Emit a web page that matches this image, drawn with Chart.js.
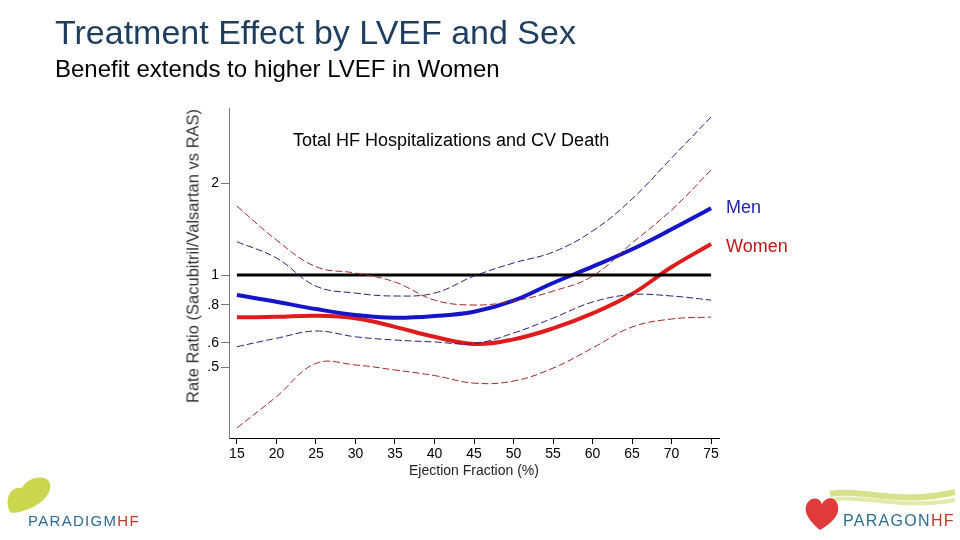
<!DOCTYPE html>
<html>
<head>
<meta charset="utf-8">
<script src="https://cdn.jsdelivr.net/npm/chart.js@4.4.1/dist/chart.umd.min.js"></script>
<style>
  html, body { margin: 0; padding: 0; background: #fff; }
  #page { position: relative; width: 960px; height: 540px; overflow: hidden; font-family: "Liberation Sans", Arial, sans-serif; }
  #chart { position: absolute; left: 0; top: 0; }
  .title { position: absolute; left: 55px; top: 13px; font-size: 34px; color: #1f3d5e; white-space: nowrap; }
  .subtitle { position: absolute; left: 55px; top: 55px; font-size: 24px; color: #000; white-space: nowrap; }
  .inner { position: absolute; left: 293px; top: 130px; font-size: 18px; color: #000; white-space: nowrap; }
  .ytitle { position: absolute; left: 193px; top: 256px; font-size: 16.5px; color: #333; white-space: nowrap;
            transform: translate(-50%, -50%) rotate(-90deg); }
  .logo-text { position: absolute; font-size: 15px; letter-spacing: 1.3px; white-space: nowrap; }
</style>
</head>
<body>
<div id="page">
  <canvas id="chart" width="960" height="540"></canvas>
  <div class="title">Treatment Effect by LVEF and Sex</div>
  <div class="subtitle">Benefit extends to higher LVEF in Women</div>
  <div class="inner">Total HF Hospitalizations and CV Death</div>
  <div class="ytitle">Rate Ratio (Sacubitril/Valsartan vs RAS)</div>

  <svg style="position:absolute;left:0;top:470px" width="60" height="50">
    <path d="M10 42 C 4 30, 10 16, 22 18 C 28 6, 48 4, 50 14 C 52 26, 38 36, 26 40 C 20 42, 14 44, 10 42 Z" fill="#c9d64e"/>
  </svg>
  <div class="logo-text" style="left:28px;top:512px;color:#2c6a96">PARADIGM<span style="color:#c0392b">HF</span></div>

  <svg style="position:absolute;left:800px;top:486px" width="160" height="50">
    <path d="M30 8 C 60 2, 100 20, 155 6" stroke="#d7e08a" stroke-width="6" fill="none"/>
    <path d="M32 14 C 62 8, 100 24, 155 14" stroke="#e3e9a8" stroke-width="4" fill="none"/>
    <path d="M20 44 C 8 34, 2 24, 8 16 C 13 10, 20 12, 22 18 C 26 10, 36 10, 38 20 C 40 30, 30 38, 20 44 Z" fill="#e03a3a"/>
  </svg>
  <div class="logo-text" style="left:843px;top:512px;color:#2c6e8e;font-size:16px">PARAGON<span style="color:#c0392b">HF</span></div>
</div>

<script>
// Ejection fraction grid and tick labels
const efValues = [15, 20, 25, 30, 35, 40, 45, 50, 55, 60, 65, 70, 75];
const xTicks = [15, 20, 25, 30, 35, 40, 45, 50, 55, 60, 65, 70, 75];
const yTicks = [0.5, 0.6, 0.8, 1, 2];
const yTickLabels = ['.5', '.6', '.8', '1', '2'];

// Rate ratio estimates
const menRR    = [0.86, 0.818, 0.774, 0.74, 0.725, 0.734, 0.758, 0.824, 0.942, 1.065, 1.214, 1.411, 1.653];
const menUpper = [1.285, 1.137, 0.92, 0.873, 0.854, 0.873, 0.992, 1.095, 1.189, 1.393, 1.773, 2.415, 3.29];
const menLower = [0.583, 0.621, 0.656, 0.628, 0.613, 0.604, 0.597, 0.646, 0.723, 0.816, 0.863, 0.854, 0.828];

const womenRR    = [0.727, 0.73, 0.736, 0.722, 0.677, 0.628, 0.595, 0.616, 0.669, 0.749, 0.867, 1.062, 1.263];
const womenUpper = [1.682, 1.302, 1.065, 1.015, 0.949, 0.828, 0.798, 0.822, 0.886, 0.992, 1.273, 1.632, 2.206];
const womenLower = [0.316, 0.40, 0.514, 0.508, 0.489, 0.469, 0.443, 0.45, 0.496, 0.577, 0.676, 0.718, 0.729];

const refLine = [1, 1];
const refX = [15, 75];

const toPoints = (xs, ys) => xs.map((x, i) => ({ x: x, y: ys[i] }));

const BLUE = '#1414c8';
const RED = '#e01b1b';
const BLUE_CI = '#23237a';
const RED_CI = '#a52525';

function ciSet(label, values, color) {
    return {
        label: label,
        data: toPoints(efValues, values),
        borderColor: color,
        borderWidth: 1,
        borderDash: [7, 3],
        pointRadius: 0,
        tension: 0.4,
        fill: false
    };
}

// writes "Men" / "Women" next to the end of each main curve
const endLabels = {
    id: 'endLabels',
    afterDatasetsDraw(chart) {
        const ctx = chart.ctx;
        ctx.save();
        ctx.font = '18px "Liberation Sans", Arial, sans-serif';
        ctx.textBaseline = 'middle';
        ctx.textAlign = 'left';
        chart.data.datasets.forEach((ds, i) => {
            if (!ds.endLabel) return;
            const meta = chart.getDatasetMeta(i);
            const last = meta.data[meta.data.length - 1];
            ctx.fillStyle = ds.endLabelColor;
            ctx.fillText(ds.endLabel, last.x + 15, last.y + ds.endLabelShift);
        });
        ctx.restore();
    }
};

new Chart(document.getElementById('chart').getContext('2d'), {
    type: 'line',
    data: {
        datasets: [
            ciSet('Men upper', menUpper, BLUE_CI),
            ciSet('Men lower', menLower, BLUE_CI),
            ciSet('Women upper', womenUpper, RED_CI),
            ciSet('Women lower', womenLower, RED_CI),
            {
                label: 'Reference',
                data: toPoints(refX, refLine),
                borderColor: '#000',
                borderWidth: 3,
                pointRadius: 0
            },
            {
                label: 'Men',
                data: toPoints(efValues, menRR),
                borderColor: BLUE,
                borderWidth: 4,
                pointRadius: 0,
                tension: 0.4,
                endLabel: 'Men',
                endLabelColor: '#2222b0',
                endLabelShift: 0
            },
            {
                label: 'Women',
                data: toPoints(efValues, womenRR),
                borderColor: RED,
                borderWidth: 4,
                pointRadius: 0,
                tension: 0.4,
                endLabel: 'Women',
                endLabelColor: '#c01818',
                endLabelShift: 3
            }
        ]
    },
    options: {
        responsive: false,
        animation: false,
        layout: { padding: { left: 190, top: 108, right: 241, bottom: 60 } },
        plugins: {
            legend: { display: false },
            tooltip: { enabled: false }
        },
        scales: {
            x: {
                type: 'linear',
                min: 14,
                max: 76,
                afterBuildTicks: (scale) => { scale.ticks = xTicks.map(v => ({ value: v })); },
                afterFit: (scale) => { scale.height = 42; },
                ticks: {
                    color: '#000',
                    font: { size: 14, family: '"Liberation Sans", Arial, sans-serif' },
                    padding: 2,
                    maxRotation: 0,
                    autoSkip: false
                },
                grid: { drawOnChartArea: false, color: '#000', tickLength: 6 },
                border: { color: '#000', width: 1 },
                title: {
                    display: true,
                    text: 'Ejection Fraction (%)',
                    color: '#222',
                    font: { size: 14, family: '"Liberation Sans", Arial, sans-serif' },
                    padding: 0
                }
            },
            y: {
                type: 'logarithmic',
                min: 0.293,
                max: 3.52,
                afterBuildTicks: (scale) => { scale.ticks = yTicks.map(v => ({ value: v })); },
                afterFit: (scale) => { scale.width = 39; },
                ticks: {
                    color: '#000',
                    font: { size: 14, family: '"Liberation Sans", Arial, sans-serif' },
                    padding: 2,
                    autoSkip: false,
                    callback: (value) => yTickLabels[yTicks.indexOf(value)]
                },
                grid: { drawOnChartArea: false, color: '#777', tickLength: 8 },
                border: { color: '#777', width: 1 }
            }
        }
    },
    plugins: [endLabels]
});
</script>
</body>
</html>
